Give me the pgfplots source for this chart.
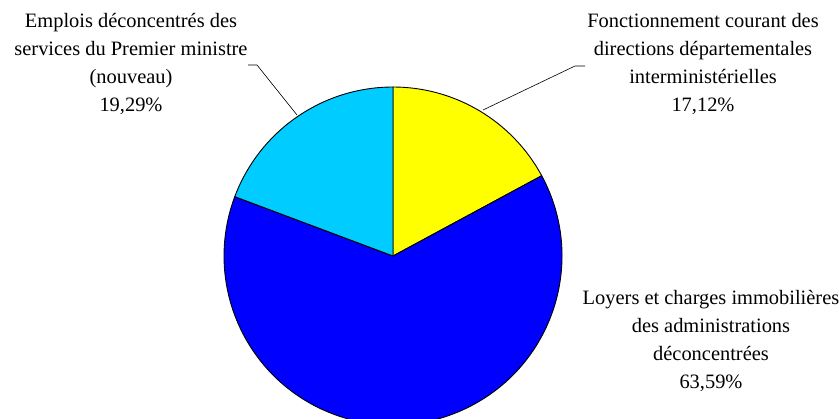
\documentclass[border=0pt]{standalone}
\usepackage{pgfplots}
\pgfplotsset{compat=1.18}
\usepackage{fontspec}
\setmainfont{Liberation Serif}
\definecolor{pieY}{RGB}{255,255,0}
\definecolor{pieB}{RGB}{0,0,255}
\definecolor{pieC}{RGB}{0,204,255}
\begin{document}
\begin{tikzpicture}
% shares (%)
\def\vA{17.12}% Fonctionnement courant
\def\vB{63.59}% Loyers et charges
\def\vC{19.29}% Emplois deconcentres
\pgfmathsetmacro{\aA}{90}
\pgfmathsetmacro{\aB}{90-\vA*3.6}
\pgfmathsetmacro{\aC}{\aB-\vB*3.6}
\pgfmathsetmacro{\aD}{\aC-\vC*3.6}
\begin{axis}[width=839bp,height=419bp,scale only axis,
  xmin=0,xmax=839,ymin=0,ymax=419,hide axis,clip=false,
  at={(0,0)},anchor=south west]
\begin{scope}
\clip (axis cs:0,0) rectangle (axis cs:839,419);
\filldraw[fill=pieY,draw=black,line width=0.9bp,line join=round] (axis cs:393,163) -- ++(\aA:169bp) arc[start angle=\aA,end angle=\aB,radius=169bp] -- cycle;
\filldraw[fill=pieB,draw=black,line width=0.9bp,line join=round] (axis cs:393,163) -- ++(\aB:169bp) arc[start angle=\aB,end angle=\aC,radius=169bp] -- cycle;
\filldraw[fill=pieC,draw=black,line width=0.9bp,line join=round] (axis cs:393,163) -- ++(\aC:169bp) arc[start angle=\aC,end angle=\aD,radius=169bp] -- cycle;
\end{scope}
\draw[black,line width=0.6bp] (axis cs:248,354) -- (axis cs:257,354) -- (axis cs:297,304);
\draw[black,line width=0.6bp] (axis cs:585,353) -- (axis cs:575,353) -- (axis cs:483,309);
\node[align=center,font=\fontsize{20.5}{28}\selectfont,inner sep=0pt] at (axis cs:131,355) {Emplois déconcentrés des\\services du Premier ministre\\(nouveau)\\19,29\%};
\node[align=center,font=\fontsize{20.5}{28}\selectfont,inner sep=0pt] at (axis cs:703,355) {Fonctionnement courant des\\directions départementales\\interministérielles\\17,12\%};
\node[align=center,font=\fontsize{20.5}{28}\selectfont,inner sep=0pt] at (axis cs:711,78) {Loyers et charges immobilières\\des administrations\\déconcentrées\\63,59\%};
\end{axis}
\pgfresetboundingbox
\path[use as bounding box] (0,0) rectangle (839bp,419bp);
\end{tikzpicture}
\end{document}
